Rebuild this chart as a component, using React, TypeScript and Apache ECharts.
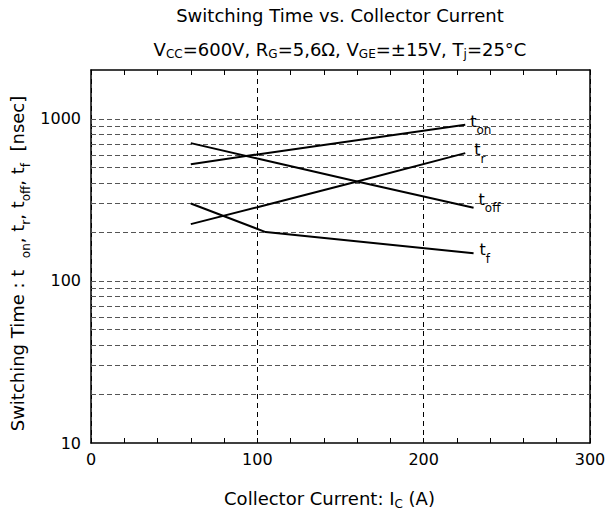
import React, { useEffect, useRef } from 'react';
import * as echarts from 'echarts';

// Axis ranges
const X_MIN = 0;
const X_MAX = 300;
const Y_MIN = 10;
const Y_MAX = 2000;

// Series: t_on
const X_TON = [60, 100, 225];
const Y_TON = [525, 603, 920];
// Series: t_r
const X_TR = [60, 100, 160, 225];
const Y_TR = [224, 285, 410, 614];
// Series: t_off
const X_TOFF = [60, 100, 160, 230];
const Y_TOFF = [708, 569, 410, 283];
// Series: t_f
const X_TF = [60, 105, 230];
const Y_TF = [300, 200, 148];

// Horizontal dashed grid values
const H_GRID = [20, 30, 40, 50, 60, 70, 80, 90, 100, 200, 300, 400, 500, 600, 700, 800, 900, 1000];

const FONT = 'DejaVu Sans';

export default function App() {
  const ref = useRef<HTMLDivElement>(null);
  useEffect(() => {
    document.body.style.margin = '0';
    const chart = echarts.init(ref.current!, null, { renderer: 'svg' });

    const main = { fontSize: 16, fontFamily: FONT, color: '#000', lineHeight: 18, verticalAlign: 'top' };
    const sub = { fontSize: 12, fontFamily: FONT, color: '#000', padding: [11, 0, 0, 0], lineHeight: 25, verticalAlign: 'top' };
    const subX = { fontSize: 12, fontFamily: FONT, color: '#000', padding: [14, 0, 0, 0], lineHeight: 28, verticalAlign: 'top' };
    const subY = { fontSize: 12, fontFamily: FONT, color: '#000', padding: [19, 0, 0, 0], lineHeight: 33, verticalAlign: 'top' };

    const mk = (xs: number[], ys: number[], label: string, offset: number[], extra: any = {}) => ({
      type: 'line',
      data: xs.map((x, i) => [x, ys[i]]),
      symbol: 'none',
      lineStyle: { color: '#000', width: 2 },
      emphasis: { disabled: true },
      silent: true,
      endLabel: {
        show: true,
        distance: 4,
        offset,
        formatter: () => `{m|t}{s|${label}}`,
        rich: { m: main, s: sub },
      },
      ...extra,
    });

    const axisLineStyle = { color: '#000', width: 1.5 };

    chart.setOption({
      animation: false,
      grid: { left: 91, right: 17, top: 70, bottom: 72, containLabel: false, outerBoundsMode: 'none' },
      graphic: [
        {
          type: 'text',
          x: 340,
          y: 6,
          style: {
            text: 'Switching Time vs. Collector Current',
            fontSize: 18,
            fontFamily: FONT,
            fill: '#000',
            align: 'center',
            verticalAlign: 'top',
          },
        },
        {
          type: 'text',
          x: 340,
          y: 36,
          style: {
            text: 'V{s|CC}=600V, R{s|G}=5,6Ω, V{s|GE}=±15V, T{s|j}=25°C',
            fontSize: 18,
            fontFamily: FONT,
            fill: '#000',
            align: 'center',
            verticalAlign: 'top',
            lineHeight: 26,
            rich: {
              s: { fontSize: 12, fontFamily: FONT, fill: '#000', padding: [12, 0, 0, 0], lineHeight: 26, verticalAlign: 'top' },
            },
          },
        },
      ],
      xAxis: [
        {
          type: 'value',
          min: X_MIN,
          max: X_MAX,
          interval: 100,
          position: 'bottom',
          axisLine: { show: true, onZero: false, lineStyle: axisLineStyle },
          axisTick: { show: true, inside: true, length: 5, lineStyle: { color: '#000', width: 1 } },
          minorTick: { show: true, splitNumber: 5, length: 5, lineStyle: { color: '#000', width: 1 } },
          axisLabel: { margin: 8, fontSize: 16, fontFamily: FONT, color: '#000' },
          splitLine: { show: true, lineStyle: { type: [5, 4], color: '#000', width: 1 } },
          name: 'Collector Current: I{s|C} (A)',
          nameLocation: 'middle',
          nameGap: 41,
          nameMoveOverlap: false,
          nameTextStyle: {
            fontSize: 18,
            fontFamily: FONT,
            color: '#000',
            lineHeight: 28,
            padding: [0, 22, 0, 0],
            rich: { s: subX },
          },
        },
        {
          type: 'value',
          min: X_MIN,
          max: X_MAX,
          interval: 100,
          position: 'top',
          axisLine: { show: true, onZero: false, lineStyle: axisLineStyle },
          axisTick: { show: true, inside: true, length: 5, lineStyle: { color: '#000', width: 1 } },
          minorTick: { show: true, splitNumber: 5, length: 5, lineStyle: { color: '#000', width: 1 } },
          axisLabel: { show: false },
          splitLine: { show: false },
        },
      ],
      yAxis: [
        {
          type: 'log',
          logBase: 10,
          min: Y_MIN,
          max: Y_MAX,
          position: 'left',
          axisLine: { show: true, onZero: false, lineStyle: axisLineStyle },
          axisTick: { show: false },
          splitLine: { show: false },
          axisLabel: {
            margin: 10,
            fontSize: 16,
            fontFamily: FONT,
            color: '#000',
            showMaxLabel: false,
            formatter: (v: number) => {
              const l = Math.log10(v);
              return Math.abs(l - Math.round(l)) < 1e-6 ? String(Math.round(v)) : '';
            },
          },
          name: 'Switching Time : t  {s|on}, t{s|r}, t{s|off}, t{s|f}  [nsec]',
          nameLocation: 'middle',
          nameRotate: 90,
          nameGap: 57,
          nameMoveOverlap: false,
          nameTextStyle: {
            fontSize: 18,
            fontFamily: FONT,
            color: '#000',
            lineHeight: 33,
            padding: [0, 14, 0, 0],
            rich: { s: subY },
          },
        },
        {
          type: 'log',
          logBase: 10,
          min: Y_MIN,
          max: Y_MAX,
          position: 'right',
          axisLine: { show: true, onZero: false, lineStyle: axisLineStyle },
          axisTick: { show: false },
          axisLabel: { show: false },
          splitLine: { show: false },
        },
      ],
      series: [
        mk(X_TON, Y_TON, 'on', [1, 1], {
          markLine: {
            silent: true,
            z: 1,
            symbol: ['none', 'none'],
            label: { show: false },
            emphasis: { disabled: true },
            lineStyle: { type: [5, 3], color: '#555', width: 1 },
            data: H_GRID.map((v) => ({ yAxis: v })),
          },
        }),
        mk(X_TR, Y_TR, 'r', [5, 1]),
        mk(X_TOFF, Y_TOFF, 'off', [1, -4]),
        mk(X_TF, Y_TF, 'f', [2, 1]),
      ],
    });
    return () => chart.dispose();
  }, []);
  return <div ref={ref} style={{ width: 607, height: 515 }} />;
}
